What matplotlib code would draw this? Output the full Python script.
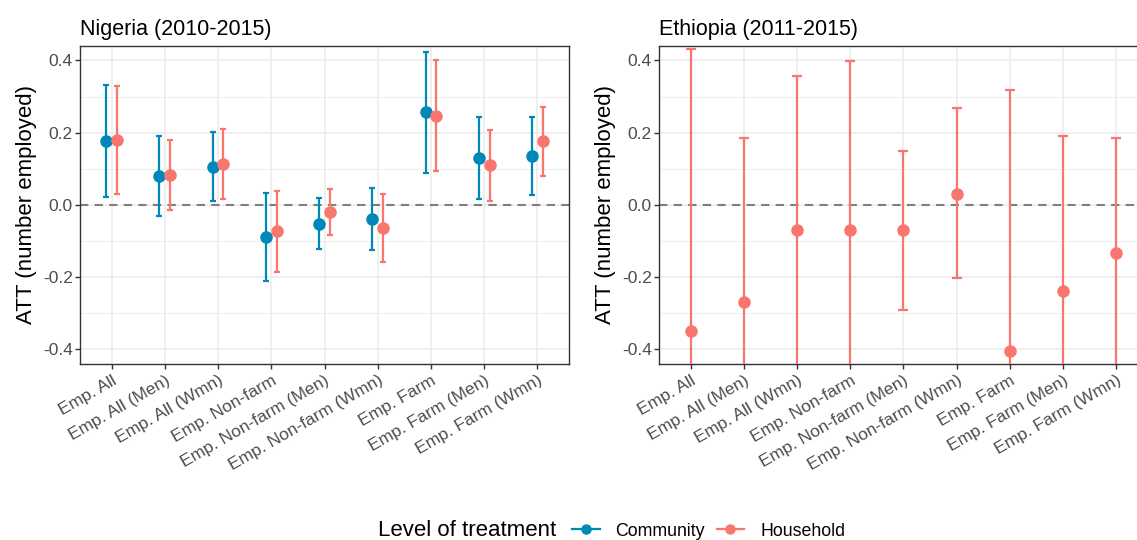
import numpy as np
import matplotlib.pyplot as plt
from matplotlib.lines import Line2D

plt.rcParams['font.family'] = ['Liberation Sans', 'DejaVu Sans']
plt.rcParams['axes.unicode_minus'] = False

outcomes = ["Emp. All", "Emp. All (Men)", "Emp. All (Wmn)", "Emp. Non-farm",
            "Emp. Non-farm (Men)", "Emp. Non-farm (Wmn)", "Emp. Farm",
            "Emp. Farm (Men)", "Emp. Farm (Wmn)"]

# Nigeria - community level treatment
ng_comm_att = [0.177, 0.081, 0.105, -0.089, -0.053, -0.039, 0.256, 0.129, 0.135]
ng_comm_lo = [0.021, -0.030, 0.010, -0.210, -0.122, -0.124, 0.089, 0.017, 0.028]
ng_comm_hi = [0.332, 0.192, 0.202, 0.034, 0.019, 0.048, 0.423, 0.243, 0.244]
# Nigeria - household level treatment
ng_hh_att = [0.180, 0.083, 0.114, -0.073, -0.019, -0.064, 0.247, 0.110, 0.176]
ng_hh_lo = [0.030, -0.014, 0.017, -0.186, -0.084, -0.157, 0.095, 0.012, 0.081]
ng_hh_hi = [0.330, 0.180, 0.209, 0.039, 0.045, 0.031, 0.400, 0.207, 0.272]
# Ethiopia - household level only
et_hh_att = [-0.350, -0.270, -0.069, -0.070, -0.070, 0.031, -0.406, -0.238, -0.134]
et_hh_lo = [-1.131, -0.726, -0.496, -0.539, -0.290, -0.204, -1.130, -0.667, -0.454]
et_hh_hi = [0.431, 0.186, 0.358, 0.399, 0.150, 0.268, 0.318, 0.191, 0.186]

blue = "#0088B8"
red = "#F8766D"

W, H = 1137, 540
fig = plt.figure(figsize=(W / 100, H / 100), dpi=100)

ax1 = fig.add_axes([80.3 / W, (540 - 363.7) / H, 488.4 / W, 317.7 / H])
ax2 = fig.add_axes([659.3 / W, (540 - 363.7) / H, 488.4 / W, 317.7 / H])

x = np.arange(1, len(outcomes) + 1)


def draw_series(ax, xs, att, lo, hi, color, cap):
    att = np.array(att)
    err = [att - np.array(lo), np.array(hi) - att]
    ax.errorbar(xs, att, yerr=err, fmt='o', color=color, ms=8, lw=1.6,
                capsize=cap, capthick=1.6, zorder=3, clip_on=True)


def style(ax, title):
    ax.set_xlim(1 - 0.587, len(outcomes) + 0.587)
    ax.set_ylim(-0.44, 0.44)
    ax.set_yticks([-0.4, -0.2, 0.0, 0.2, 0.4])
    ax.set_yticklabels(["-0.4", "-0.2", "0.0", "0.2", "0.4"])
    ax.set_yticks([-0.3, -0.1, 0.1, 0.3], minor=True)
    ax.set_xticks(x)
    ax.set_xticklabels(outcomes, rotation=30, ha='right', va='top',
                       rotation_mode='anchor', fontsize=12.5, color='#4D4D4D')
    ax.tick_params(axis='y', labelsize=12.5, labelcolor='#4D4D4D', color='#333333',
                   length=3.5, width=1, pad=2)
    ax.tick_params(axis='x', color='#333333', length=3.5, width=1, pad=3)
    ax.tick_params(which='minor', length=0)
    ax.grid(which='major', color='#EBEBEB', lw=1.1, zorder=0)
    ax.grid(which='minor', axis='y', color='#EBEBEB', lw=0.6, zorder=0)
    ax.set_axisbelow(True)
    for s in ax.spines.values():
        s.set_color('#333333')
        s.set_linewidth(1)
    ax.axhline(0, color='#7F7F7F', ls=(0, (4, 3)), lw=1.5, zorder=2)
    ax.set_ylabel("ATT (number employed)", fontsize=16, labelpad=4)
    ax.set_title(title, loc='left', fontsize=15.5, pad=8)


draw_series(ax1, x - 0.1, ng_comm_att, ng_comm_lo, ng_comm_hi, blue, 2)
draw_series(ax1, x + 0.1, ng_hh_att, ng_hh_lo, ng_hh_hi, red, 2)
draw_series(ax2, x, et_hh_att, et_hh_lo, et_hh_hi, red, 3.5)

style(ax1, "Nigeria (2010-2015)")
style(ax2, "Ethiopia (2011-2015)")

# legend at the bottom
fig.text(378 / W, 1 - 531 / H, "Level of treatment", fontsize=16, va='center', ha='left')
handles = [Line2D([0], [0], color=blue, marker='o', ms=6.5, lw=1.6),
           Line2D([0], [0], color=red, marker='o', ms=6.5, lw=1.6)]
fig.legend(handles, ["Community", "Household"], loc='center left',
           bbox_to_anchor=(572 / W, 1 - 531 / H), ncol=2, frameon=False,
           fontsize=12.8, handlelength=1.55, handletextpad=0.9, columnspacing=0.65,
           borderaxespad=0, borderpad=0)

fig.savefig("out.png", dpi=100)
